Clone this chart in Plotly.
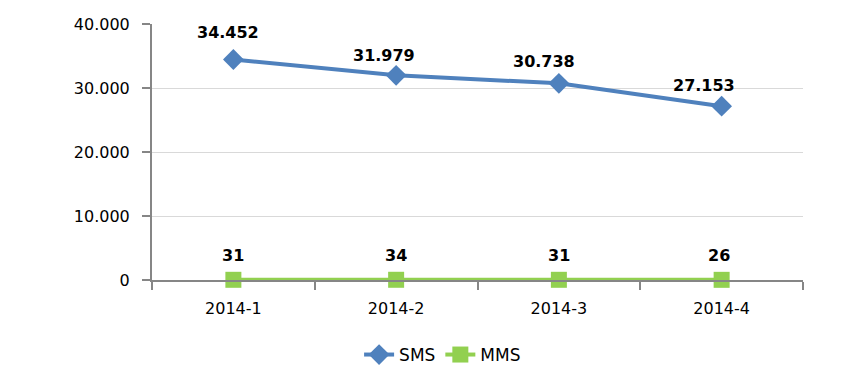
import plotly.graph_objects as go

categories = ["2014-1", "2014-2", "2014-3", "2014-4"]
sms_values = [34452, 31979, 30738, 27153]
mms_values = [31, 34, 31, 26]
y_tickvals = [0, 10000, 20000, 30000, 40000]

# label offsets (px) for data labels, styling only
sms_label_dx = [-5, -12, -15, -18]
sms_label_dy = [27, 20, 22, 21]
mms_label_dx = [0, 0, 0, -3]
mms_label_dy = [24, 24, 24, 24]

def fmt(v):
    return f"{v:,}".replace(",", ".")

BLUE = "#4F81BD"
GREEN = "#92D050"
FONT = "DejaVu Sans"

fig = go.Figure()
fig.add_trace(go.Scatter(
    x=categories, y=sms_values, name="SMS", mode="lines+markers",
    line=dict(color=BLUE, width=4),
    marker=dict(symbol="diamond", size=16, color=BLUE),
    cliponaxis=False,
))
fig.add_trace(go.Scatter(
    x=categories, y=mms_values, name="MMS", mode="lines+markers",
    line=dict(color=GREEN, width=4),
    marker=dict(symbol="square", size=16, color=GREEN),
    cliponaxis=False,
))

annotations = []
for c, v, dx, dy in zip(categories, sms_values, sms_label_dx, sms_label_dy):
    annotations.append(dict(x=c, y=v, text=fmt(v), showarrow=False,
                            xshift=dx, yshift=dy,
                            font=dict(family=FONT, size=16, color="black", weight="bold")))
for c, v, dx, dy in zip(categories, mms_values, mms_label_dx, mms_label_dy):
    annotations.append(dict(x=c, y=v, text=fmt(v), showarrow=False,
                            xshift=dx, yshift=dy,
                            font=dict(family=FONT, size=16, color="black", weight="bold")))

fig.update_layout(
    width=864, height=389,
    margin=dict(l=144, r=69, t=16, b=117, autoexpand=False),
    paper_bgcolor="white", plot_bgcolor="white",
    separators=",.",
    font=dict(family=FONT, size=16, color="black"),
    showlegend=True,
    legend=dict(orientation="h", xref="container", x=0.503, xanchor="center",
                yref="container", y=0.108, yanchor="middle",
                font=dict(family=FONT, size=17, color="black"),
                itemwidth=30, tracegroupgap=0),
    annotations=annotations,
)
fig.update_xaxes(
    type="category", range=[-0.5, 3.5], automargin=False,
    showline=True, linecolor="#868686", linewidth=2,
    ticks="outside", tickson="boundaries", ticklen=8, tickcolor="#868686", tickwidth=2,
    showgrid=False, zeroline=False,
    tickfont=dict(family=FONT, size=16, color="black"),
    ticklabelstandoff=13,
)
fig.update_yaxes(
    range=[0, 40000], tickvals=y_tickvals, tickformat=",d", automargin=False,
    showline=True, linecolor="#868686", linewidth=2,
    ticks="outside", ticklen=8, tickcolor="#868686", tickwidth=2,
    showgrid=True, gridcolor="#D9D9D9", gridwidth=1.3,
    zeroline=False,
    tickfont=dict(family=FONT, size=16, color="black"),
    ticklabelstandoff=9,
)

fig.write_html("out.html")
